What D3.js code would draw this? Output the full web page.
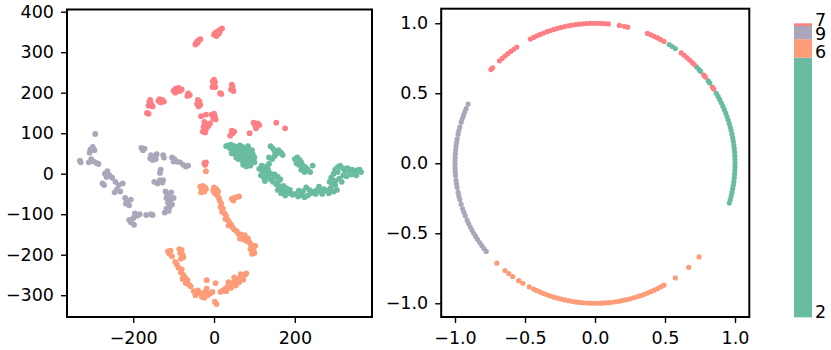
<!DOCTYPE html>
<html>
<head>
<meta charset="utf-8">
<script src="https://cdn.jsdelivr.net/npm/d3@7"></script>
<style>
  body { margin: 0; background: #fff; }
  svg { display: block; }
  .tick text { font-family: "DejaVu Sans", sans-serif; font-size: 17.5px; fill: #000; }
  .tick line { stroke: #000; stroke-width: 1.4; }
</style>
</head>
<body>
<svg id="chart" width="831" height="350"></svg>
<script>
// class colours
const colors = { '2': '#69bca2', '6': '#fd9c79', '9': '#aba7bb', '7': '#fd7f84' };

// left panel: embedded points per class [x, y]
const red7 = [
  [-45,322],[-42,326],[-38,330],[-34,332],[-40,324],[-46,319],
  [0,343],[4,348],[8,344],[10,352],[14,350],[16,356],[20,359],[12,346],[6,340],
  [-3,228],[2,226],[-1,220],[3,214],[-4,214],[0,232],
  [15,199],[18,197],
  [44,220],[46,214],[42,208],[48,204],[45,210],
  [-160,178],[-155,172],[-162,168],[-152,166],[-158,182],[-166,150],[-162,148],
  [-135,184],[-128,182],[-124,178],[-132,176],[-138,180],
  [-100,205],[-95,210],[-90,206],[-85,204],[-80,208],[-96,200],[-88,212],
  [-64,198],[-60,194],[-66,192],
  [-40,182],[-36,178],[-42,172],[-38,166],[-34,170],
  [-32,142],[-20,146],
  [-6,146],[2,142],[-2,136],[4,134],[0,148],
  [-24,128],[-18,122],[-26,116],[-20,110],[-14,118],[-28,104],[-22,102],[-10,124],
  [44,106],[50,104],[46,100],[40,94],
  [88,100],
  [102,118],[108,124],[104,112],[112,120],[98,126],
  [154,126],[176,112],
  [-22,22],[-20,28],[-24,26]
];
const green2 = [
  [35,70],[42,72],[50,68],[58,66],[64,70],[70,66],[78,62],[86,60],[94,58],[40,62],
  [46,58],[54,60],[62,58],[72,56],[80,52],[88,50],[96,48],[50,50],[58,48],[66,46],
  [74,42],[82,40],[90,38],[60,36],[70,32],[78,28],[86,30],[94,34],[100,40],[44,50],
  [100,28],[66,62],[30,68],[84,68],[92,44],[76,48],[55,40],[72,22],[80,18],[90,20],
  [140,68],[146,62],[150,56],[156,50],[160,58],[166,52],[150,44],[136,40],[144,36],[170,46],
  [118,20],[124,14],[130,18],[120,6],[128,4],[134,10],[140,0],[116,-4],[124,-10],[132,-6],
  [140,-14],[148,-8],[146,-20],[154,-26],[160,-18],[162,-32],[170,-40],[178,-44],[186,-48],[194,-52],
  [172,-30],[180,-36],[188,-40],[158,-40],[166,-48],[176,-54],[150,-2],[158,-8],[164,-14],[112,12],
  [136,24],[126,-18],
  [200,36],[206,40],[212,34],[216,28],[210,22],[220,20],[226,16],[232,10],[238,4],[216,10],
  [224,4],[204,26],[244,20],
  [200,-50],[208,-56],[216,-52],[224,-58],[232,-54],[240,-48],[248,-44],[256,-40],[264,-44],[272,-38],
  [280,-42],[288,-36],[296,-44],[304,-40],[220,-44],[236,-40],[252,-50],[268,-50],[284,-48],[210,-42],
  [228,-34],[260,-32],[300,-28],[292,-24],
  [290,-10],[296,0],[300,10],[306,16],[312,20],[318,14],[324,8],[330,14],[336,6],[342,10],
  [348,4],[354,8],[360,10],[364,4],[320,-4],[310,-12],[300,-18],[316,-20],[328,-6],[340,-2],
  [352,-4],[306,4],[296,-24],[286,-20]
];
const grey9 = [
  [-332,32],[-330,28],
  [-306,60],[-300,66],[-296,58],[-308,52],
  [-294,98],
  [-304,36],[-298,30],[-310,28],[-290,26],[-286,24],
  [-270,0],[-264,6],[-258,-4],[-252,-10],[-266,-8],[-276,-24],[-272,-28],
  [-244,-20],[-236,-28],[-240,-38],[-232,-44],[-246,-46],[-226,-24],
  [-220,-60],[-214,-70],[-210,-78],[-218,-74],[-206,-64],
  [-196,-98],[-190,-104],[-200,-110],[-206,-120],[-198,-126],[-210,-114],[-184,-100],[-168,-102],[-152,-102],[-156,-100],
  [-180,64],[-172,62],[-176,58],
  [-156,46],[-150,40],[-144,36],[-152,34],[-142,48],[-158,38],
  [-126,46],[-124,40],
  [-104,40],[-98,36],[-92,30],[-84,28],[-76,22],[-70,18],[-64,20],[-100,30],
  [-132,10],[-134,2],
  [-148,-20],[-140,-24],[-134,-16],[-128,-22],[-126,-16],
  [-120,-44],[-116,-50],[-112,-56],[-118,-60],[-108,-66],[-114,-72],[-104,-76],[-110,-82],
  [-118,-86],[-112,-92],[-122,-96],[-106,-46],[-100,-60]
];
const orange6 = [
  [-34,-32],[-28,-30],[-22,-34],[-30,-40],[-24,-44],[-20,-38],[-32,-46],
  [-20,6],
  [0,-34],[6,-38],[10,-44],[2,-48],[8,-54],[12,-60],[-2,-42],
  [44,-62],[50,-60],[56,-58],[62,-56],[48,-66],
  [14,-66],[18,-74],[16,-82],[22,-86],[20,-94],[26,-98],[30,-104],[28,-112],[34,-114],[38,-120],
  [36,-128],[42,-126],[46,-132],
  [50,-138],[56,-142],[60,-148],[66,-150],[70,-156],[64,-160],[76,-152],[72,-162],[80,-166],[84,-160],
  [88,-170],[92,-176],[96,-182],[90,-186],[98,-190],[100,-196],[94,-198],[102,-178],
  [-114,-192],[-108,-190],[-110,-198],[-104,-204],[-86,-186],[-80,-188],[-84,-196],[-78,-200],
  [-76,-206],[-82,-210],[-96,-218],[-92,-224],
  [-88,-232],[-80,-236],[-82,-244],[-76,-250],[-72,-256],[-78,-260],[-66,-262],[-70,-270],[-62,-274],[-58,-278],
  [-50,-290],[-44,-296],[-40,-288],[-34,-294],[-28,-298],[-22,-292],[-16,-300],[-10,-296],[-4,-292],
  [-46,-300],[-30,-304],[-18,-284],[-24,-306],
  [-18,-263],[4,-270],[6,-322],[2,-316],
  [16,-292],[22,-288],[28,-284],[34,-278],[40,-274],[46,-270],[52,-266],[58,-262],[64,-258],[70,-254],
  [76,-250],[80,-246],[30,-290],[42,-282],[54,-276],[62,-268],[72,-262],[36,-268],[50,-256],[66,-248]
];

// right panel: angle on the unit circle (degrees) per point
const red7Ang = [138,137,133,131.5,130,128.5,127,125.5,124,117.5,116,114.5,113,111.5,110,108.5,107,
  105.5,104,102.5,101,99.5,98,96.5,95,93.5,92,90.5,89,87.5,86,84.5,80,78,76.5,
  68,66.5,65,63.5,62,60.5,52,50.5,49,47.5,46,45,39,38,33,32];
const green2Ang = [58,56.5,55,43.5,42,41,36,35,30,28.5,27,25.5,24,22.5,21,19.5,18,16.5,15,13.5,12,
  10.5,9,7.5,6,4.5,3,1.5,0,-1.5,-3,-4.5,-6,-7.5,-9,-10.5,-12,-13.5,-15,-16.5];
const grey9Ang = [155,157,158.5,160,161.5,163,165,166.5,168,170,171.5,173,174.5,176,177.5,179,180.5,
  182,183.5,185,187,188.5,190,192,193.5,195,197,199,200.5,202,204,205.5,207,208.5,210,211.5,
  213,214.5,216,217.5,219];
const orange6Ang = [225.5,230,232,234,237,239,242,244,245.5,247,248.5,250,251.5,253,254.5,256,257.5,
  259,260.5,262,263.5,265,266.5,268,269.5,271,272.5,274,275.5,277,278.5,280,281.5,283,284.5,
  286,287.5,289,290.5,292,293.5,295,296.5,298,299.5,305,312,318];

// right-hand bar: share per class, bottom to top
const barCats = ['2', '6', '9', '7'];
const barShares = [0.883, 0.063, 0.045, 0.009];

const leftXTicks = [-200, 0, 200];
const leftYTicks = [-300, -200, -100, 0, 100, 200, 300, 400];
const rightTicks = [-1.0, -0.5, 0.0, 0.5, 1.0];

const svg = d3.select('#chart');

function panel(x0, x1, y0, y1, xDom, yDom, xTicks, yTicks, fmt) {
  const x = d3.scaleLinear().domain(xDom).range([x0, x1]);
  const y = d3.scaleLinear().domain(yDom).range([y1, y0]);
  const g = svg.append('g');

  const xa = g.append('g').attr('transform', `translate(0,${y1})`)
    .call(d3.axisBottom(x).tickValues(xTicks).tickSize(6).tickPadding(9).tickFormat(fmt));
  const ya = g.append('g').attr('transform', `translate(${x0},0)`)
    .call(d3.axisLeft(y).tickValues(yTicks).tickSize(6).tickPadding(7).tickFormat(fmt));
  xa.select('.domain').remove();
  ya.select('.domain').remove();

  const plot = g.append('g');
  g.append('rect')
    .attr('x', x0).attr('y', y0)
    .attr('width', x1 - x0).attr('height', y1 - y0)
    .attr('fill', 'none').attr('stroke', '#000').attr('stroke-width', 2);
  return { x, y, plot };
}

const left = panel(67, 372, 9.5, 317, [-363.9, 391], [-353.8, 405.4],
  leftXTicks, leftYTicks, d3.format('d'));
const right = panel(441.2, 749.3, 8.7, 317, [-1.0986, 1.102], [-1.098, 1.104],
  rightTicks, rightTicks, d3.format('.1f'));

const leftSets = [['2', green2], ['6', orange6], ['9', grey9], ['7', red7]];
leftSets.forEach(([k, pts]) => {
  left.plot.selectAll(null).data(pts).join('circle')
    .attr('cx', d => left.x(d[0]))
    .attr('cy', d => left.y(d[1]))
    .attr('r', 2.9)
    .attr('fill', colors[k]);
});

const rad = a => a * Math.PI / 180;
const rightSets = [['2', green2Ang], ['6', orange6Ang], ['9', grey9Ang], ['7', red7Ang]];
rightSets.forEach(([k, angs]) => {
  right.plot.selectAll(null).data(angs).join('circle')
    .attr('cx', a => right.x(Math.cos(rad(a))))
    .attr('cy', a => right.y(Math.sin(rad(a))))
    .attr('r', 2.6)
    .attr('fill', colors[k]);
});

// stacked share bar
const barY = d3.scaleLinear().domain([0, d3.sum(barShares)]).range([317.3, 23.3]);
let acc = 0;
const segs = barCats.map((c, i) => {
  const s = { cat: c, lo: acc, hi: acc + barShares[i] };
  acc += barShares[i];
  return s;
});
const bar = svg.append('g');
bar.selectAll('rect').data(segs).join('rect')
  .attr('x', 794)
  .attr('width', 18)
  .attr('y', d => barY(d.hi))
  .attr('height', d => barY(d.lo) - barY(d.hi))
  .attr('fill', d => colors[d.cat]);
bar.selectAll('text').data(segs).join('text')
  .attr('x', 815)
  .attr('y', d => barY(d.lo) + 0.5)
  .attr('font-family', 'DejaVu Sans, sans-serif')
  .attr('font-size', '17.5px')
  .text(d => d.cat);
</script>
</body>
</html>
